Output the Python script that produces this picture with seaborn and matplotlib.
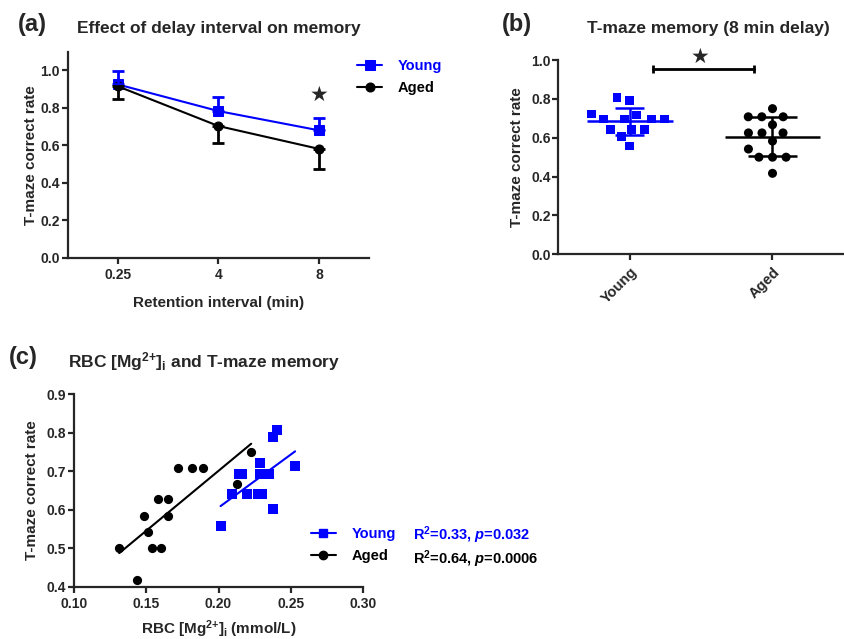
import numpy as np
import pandas as pd
import matplotlib
matplotlib.use("Agg")
import matplotlib.pyplot as plt
from matplotlib.lines import Line2D
import seaborn as sns

sns.set_style("ticks")
plt.rcParams["font.family"] = ["Liberation Sans", "DejaVu Sans"]
plt.rcParams["font.weight"] = "bold"
plt.rcParams["axes.labelweight"] = "bold"
plt.rcParams["mathtext.fontset"] = "custom"
plt.rcParams["mathtext.rm"] = "Liberation Sans:bold"
plt.rcParams["mathtext.bf"] = "Liberation Sans:bold"
plt.rcParams["mathtext.it"] = "Liberation Sans:bold:italic"
plt.rcParams["axes.linewidth"] = 1.6
plt.rcParams["xtick.major.width"] = 1.6
plt.rcParams["ytick.major.width"] = 1.6
plt.rcParams["xtick.major.size"] = 4
plt.rcParams["ytick.major.size"] = 4
plt.rcParams["ytick.major.pad"] = 1.5
plt.rcParams["xtick.labelsize"] = 10
plt.rcParams["ytick.labelsize"] = 10
plt.rcParams["axes.labelsize"] = 11

BLUE = "#0000ff"
BLACK = "#000000"

# ── (a) retention interval ────────────────────────────────────────────────────
intervals = ["0.25", "4", "8"]
young_mean = [0.925, 0.783, 0.680]
young_sd = [0.070, 0.075, 0.066]
aged_mean = [0.915, 0.703, 0.581]
aged_sd = [0.068, 0.090, 0.109]

# ── (b) 8 min delay, individual animals ───────────────────────────────────────
young_b = [0.806, 0.791, 0.722, 0.717, 0.696, 0.696, 0.696, 0.696,
           0.643, 0.643, 0.643, 0.605, 0.557]
aged_b = [0.750, 0.708, 0.708, 0.708, 0.667, 0.625, 0.625, 0.625,
          0.583, 0.542, 0.500, 0.500, 0.500, 0.417]

# ── (c) RBC Mg vs memory ──────────────────────────────────────────────────────
young_mg = [0.2014, 0.2090, 0.2145, 0.2164, 0.2198, 0.2270, 0.2304,
            0.2290, 0.2286, 0.2346, 0.2376, 0.2376, 0.2403, 0.2530]
young_rate = [0.559, 0.640, 0.693, 0.693, 0.640, 0.640, 0.640,
              0.720, 0.693, 0.693, 0.603, 0.788, 0.807, 0.713]
aged_mg = [0.1313, 0.1433, 0.1484, 0.1514, 0.1537, 0.1580, 0.1600,
           0.1650, 0.1647, 0.1720, 0.1818, 0.1896, 0.2127, 0.2226]
aged_rate = [0.501, 0.419, 0.584, 0.543, 0.500, 0.627, 0.500,
             0.627, 0.584, 0.709, 0.709, 0.709, 0.668, 0.751]


fig = plt.figure(figsize=(8.45, 6.39), dpi=100)
ax_a = fig.add_axes([0.0801, 0.5967, 0.3569, 0.3224])
ax_b = fig.add_axes([0.6607, 0.602, 0.338, 0.304])
ax_c = fig.add_axes([0.0876, 0.0814, 0.342, 0.302])

# ── panel a ───────────────────────────────────────────────────────────────────
pos = np.arange(len(intervals))
sns.lineplot(x=pos, y=young_mean, ax=ax_a, color=BLUE, marker="s",
             markersize=6.5, markeredgecolor=BLUE, linewidth=1.5, label="Young")
sns.lineplot(x=pos, y=aged_mean, ax=ax_a, color=BLACK, marker="o",
             markersize=6.5, markeredgecolor=BLACK, linewidth=1.5, label="Aged")
ax_a.errorbar(pos, young_mean, yerr=[np.zeros(3), young_sd], fmt="none",
              ecolor=BLUE, elinewidth=2, capsize=4, capthick=2)
ax_a.errorbar(pos, aged_mean, yerr=[aged_sd, np.zeros(3)], fmt="none",
              ecolor=BLACK, elinewidth=2, capsize=4, capthick=2)
ax_a.text(2, 0.87, "★", ha="center", va="center", fontsize=15,
          family="DejaVu Sans")
ax_a.set_xlim(-0.5, 2.5)
ax_a.set_ylim(0, 1.1)
ax_a.set_xticks(pos)
ax_a.set_xticklabels(intervals)
ax_a.set_yticks(np.arange(0, 1.01, 0.2))
ax_a.set_yticklabels([f"{v:.1f}" for v in np.arange(0, 1.01, 0.2)])
ax_a.set_xlabel("Retention interval (min)", labelpad=10)
ax_a.set_ylabel("T-maze correct rate", labelpad=2)
ax_a.legend(loc="upper left", bbox_to_anchor=(0.96, 0.965), frameon=False,
            borderaxespad=0, borderpad=0, handlelength=1.7, handletextpad=1.1,
            labelspacing=0.55, fontsize=10.5, labelcolor=[BLUE, BLACK])
sns.despine(ax=ax_a)

# ── panel b ───────────────────────────────────────────────────────────────────
df_b = pd.DataFrame({
    "group": ["Young"] * len(young_b) + ["Aged"] * len(aged_b),
    "rate": young_b + aged_b,
})
order = ["Young", "Aged"]
# wide invisible edges keep the swarm loose, like the original scatter
sns.swarmplot(data=df_b[df_b.group == "Young"], x="group", y="rate",
              order=order, ax=ax_b, color=BLUE, marker="s", size=6.3,
              linewidth=2.6)
sns.swarmplot(data=df_b[df_b.group == "Aged"], x="group", y="rate",
              order=order, ax=ax_b, color=BLACK, marker="o", size=6.5,
              linewidth=2.8)
for coll in ax_b.collections:
    coll.set_edgecolor("none")
for i, (vals, col, half, cap) in enumerate([(young_b, BLUE, 0.3, 0.1),
                                             (aged_b, BLACK, 0.33, 0.17)]):
    m, s = np.mean(vals), np.std(vals, ddof=1)
    ax_b.hlines(m, i - half, i + half, color=col, linewidth=1.8, zorder=3)
    ax_b.vlines(i, m - s, m + s, color=col, linewidth=1.8, zorder=3)
    ax_b.hlines([m - s, m + s], i - cap, i + cap, color=col, linewidth=1.8,
                zorder=3)
ax_b.plot([0.16, 0.87], [0.955, 0.955], color=BLACK, linewidth=2,
          clip_on=False)
ax_b.vlines([0.16, 0.87], 0.935, 0.975, color=BLACK, linewidth=2,
            clip_on=False)
ax_b.text(0.49, 1.015, "★", ha="center", va="center", fontsize=15,
          family="DejaVu Sans", clip_on=False)
ax_b.set_xlim(-0.5, 1.5)
ax_b.set_ylim(0, 1.0)
ax_b.set_yticks(np.arange(0, 1.01, 0.2))
ax_b.set_yticklabels([f"{v:.1f}" for v in np.arange(0, 1.01, 0.2)])
ax_b.set_xlabel("")
ax_b.set_ylabel("T-maze correct rate", labelpad=5)
plt.setp(ax_b.get_xticklabels(), rotation=45, ha="right",
         rotation_mode="anchor", fontsize=10.5)
sns.despine(ax=ax_b)

# ── panel c ───────────────────────────────────────────────────────────────────
sns.scatterplot(x=aged_mg, y=aged_rate, ax=ax_c, color=BLACK, marker="o",
                s=44, edgecolor=BLACK, linewidth=0, zorder=3)
sns.scatterplot(x=young_mg, y=young_rate, ax=ax_c, color=BLUE, marker="s",
                s=44, edgecolor=BLUE, linewidth=0, zorder=3)
sns.regplot(x=aged_mg, y=aged_rate, ax=ax_c, scatter=False, ci=None,
            truncate=True, color=BLACK, line_kws={"linewidth": 1.5})
sns.regplot(x=young_mg, y=young_rate, ax=ax_c, scatter=False, ci=None,
            truncate=True, color=BLUE, line_kws={"linewidth": 1.5})
ax_c.set_xlim(0.10, 0.30)
ax_c.set_ylim(0.4, 0.9)
ax_c.set_xticks(np.arange(0.10, 0.301, 0.05))
ax_c.set_xticklabels([f"{v:.2f}" for v in np.arange(0.10, 0.301, 0.05)])
ax_c.set_yticks(np.arange(0.4, 0.901, 0.1))
ax_c.set_yticklabels([f"{v:.1f}" for v in np.arange(0.4, 0.901, 0.1)])
ax_c.set_xlabel(r"RBC [Mg$^{2{+}}$]$_{\mathrm{i}}$ (mmol/L)", labelpad=5)
ax_c.set_ylabel("T-maze correct rate", labelpad=6)
handles = [
    Line2D([], [], color=BLUE, marker="s", markersize=6, linewidth=1.5),
    Line2D([], [], color=BLACK, marker="o", markersize=6, linewidth=1.5),
]
ax_c.legend(handles, ["Young", "Aged"], loc="upper left",
            bbox_to_anchor=(0.82, 0.31), frameon=False, borderaxespad=0,
            borderpad=0, handlelength=1.7, handletextpad=1.1,
            labelspacing=0.55, fontsize=10.5, labelcolor=[BLUE, BLACK])
ax_c.text(1.173, 0.269, r"R$^2$=0.33, $p$=0.032", transform=ax_c.transAxes,
          ha="left", va="center", fontsize=10.5, color=BLUE)
ax_c.text(1.173, 0.145, r"R$^2$=0.64, $p$=0.0006", transform=ax_c.transAxes,
          ha="left", va="center", fontsize=10.5, color=BLACK)
sns.despine(ax=ax_c)

# ── panel letters and titles ──────────────────────────────────────────────────
fig.text(0.021, 0.961, "(a)", fontsize=17, ha="left", va="center")
fig.text(0.091, 0.956, "Effect of delay interval on memory", fontsize=12.5,
         ha="left", va="center")
fig.text(0.594, 0.962, "(b)", fontsize=17, ha="left", va="center")
fig.text(0.695, 0.955, "T-maze memory (8 min delay)", fontsize=12.5,
         ha="left", va="center")
fig.text(0.010, 0.440, "(c)", fontsize=17, ha="left", va="center")
fig.text(0.080, 0.434, r"RBC [Mg$^{2{+}}$]$_{\mathrm{i}}$ and T-maze memory",
         fontsize=12.5, ha="left", va="center")

fig.savefig("out.png", dpi=100)
